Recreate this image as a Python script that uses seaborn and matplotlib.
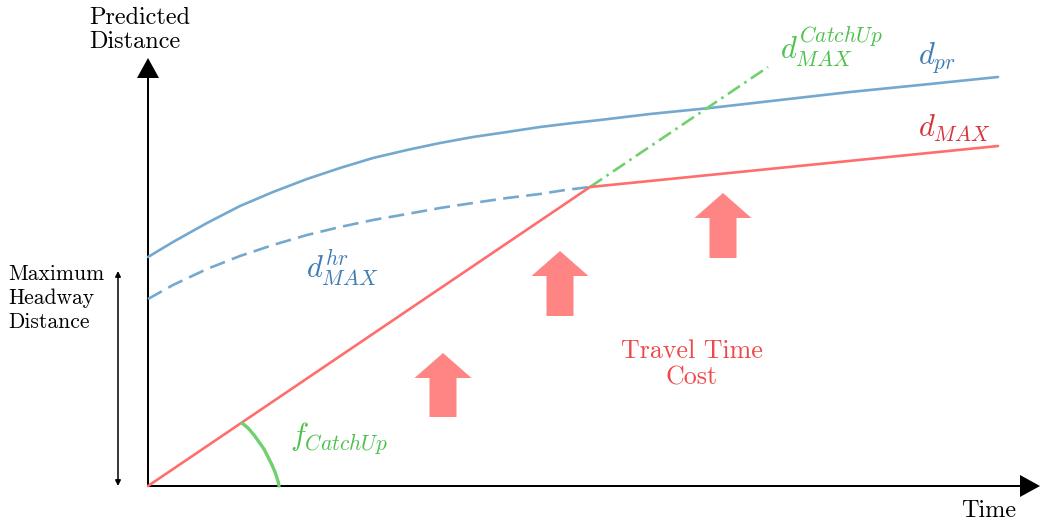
import numpy as np
import pandas as pd
import matplotlib.pyplot as plt
import seaborn as sns

sns.set_style("white")
plt.rcParams["font.family"] = "serif"
plt.rcParams["font.serif"] = ["cmr10"]
plt.rcParams["mathtext.fontset"] = "cm"
plt.rcParams["axes.unicode_minus"] = False
plt.rcParams["text.color"] = "black"

# ---------------------------------------------------------
# Curve values (time, distance)
# ---------------------------------------------------------
pr_time = [0, 25, 59, 92, 125, 159, 192, 225, 259, 292, 325, 359, 392, 425, 452,
           502, 562, 632, 702, 772, 850]
pr_dist = [229, 244, 263, 280, 294, 307, 318, 328, 336, 343, 349, 354, 359, 363, 366,
           372, 378, 386, 394, 401, 409]

hr_time = [0, 25, 59, 92, 125, 159, 192, 225, 259, 292, 325, 359, 392, 417, 442]
hr_dist = [187, 201, 217, 230, 241, 251, 259, 266, 272, 278, 283, 288, 292, 296, 299]

max_time = [0, 442, 850]
max_dist = [0, 299, 340]

catchup_time = [442, 620]
catchup_dist = [299, 419]

angle_time = [94, 100, 106, 111, 116, 120, 124, 127, 129, 130.5, 131]
angle_dist = [63, 58, 51, 44, 37, 29, 21, 14, 8, 3, 0]

# travel time cost arrows: x position, base, tip
cost_x = [295, 412, 575]
cost_base = [69, 170, 228]
cost_tip = [133, 235, 293]

BLUE = "#74a9cf"
BLUE_TXT = "#3d7db4"
RED = "#ff6e6e"
RED_TXT = "#d8323a"
GREEN = "#6fd06f"
GREEN_TXT = "#4cc24c"
ARROW = "#ff8585"

fig = plt.figure(figsize=(10.41, 5.24), dpi=100)
ax = fig.add_axes([0, 0, 1, 1])
ax.set_xlim(-148, 893)
ax.set_ylim(-38, 486)
ax.axis("off")

lw = 1.9
sns.lineplot(x=pr_time, y=pr_dist, ax=ax, sort=False, estimator=None, color=BLUE, lw=lw)
sns.lineplot(x=hr_time, y=hr_dist, ax=ax, sort=False, estimator=None, color=BLUE, lw=lw,
             linestyle=(0, (6, 2.8)))
sns.lineplot(x=catchup_time, y=catchup_dist, ax=ax, sort=False, estimator=None, color=GREEN,
             lw=lw, linestyle=(0, (5.5, 2, 1, 2)))
sns.lineplot(x=max_time, y=max_dist, ax=ax, sort=False, estimator=None, color=RED, lw=lw)
sns.lineplot(x=angle_time, y=angle_dist, ax=ax, sort=False, estimator=None, color=GREEN, lw=2.4)

# block arrows for the travel time cost
for x, b, t in zip(cost_x, cost_base, cost_tip):
    ax.arrow(x, b, 0, t - b, width=27, head_width=57, head_length=25,
             length_includes_head=True, color=ARROW, lw=0)

# axes
ax.arrow(0, 0, 0, 428, width=2, head_width=22, head_length=20,
         length_includes_head=True, color="black", lw=0)
ax.arrow(0, 0, 892, 0, width=2, head_width=22, head_length=20,
         length_includes_head=True, color="black", lw=0)
ax.annotate("", xy=(-30, 215), xytext=(-30, 0),
            arrowprops=dict(arrowstyle="<|-|>", mutation_scale=8, lw=1.1, color="black",
                            shrinkA=0, shrinkB=0))

# labels
ax.text(-59, 479, "Predicted\nDistance", ha="left", va="top", fontsize=17.5, linespacing=1.1)
ax.text(841, -25, "Time", ha="center", va="center", fontsize=17.5)
ax.text(-140, 222, "Maximum\nHeadway\nDistance", ha="left", va="top", fontsize=15.5,
        linespacing=1.3)

ax.text(632, 439, r"$d_{MAX}^{CatchUp}$", color=GREEN_TXT, fontsize=22, ha="left", va="center")
ax.text(770, 428, r"$d_{pr}$", color=BLUE_TXT, fontsize=22, ha="left", va="center")
ax.text(770, 358, r"$d_{MAX}$", color=RED_TXT, fontsize=22, ha="left", va="center")
ax.text(158, 218, r"$d_{MAX}^{hr}$", color=BLUE_TXT, fontsize=22, ha="left", va="center")
ax.text(142, 48, r"$f_{CatchUp}$", color=GREEN_TXT, fontsize=22, ha="left", va="center")
ax.text(544, 122, "Travel Time\nCost", color="#f04848", fontsize=18.7, ha="center",
        va="center", linespacing=1.15)

fig.savefig("out.png", dpi=100)
